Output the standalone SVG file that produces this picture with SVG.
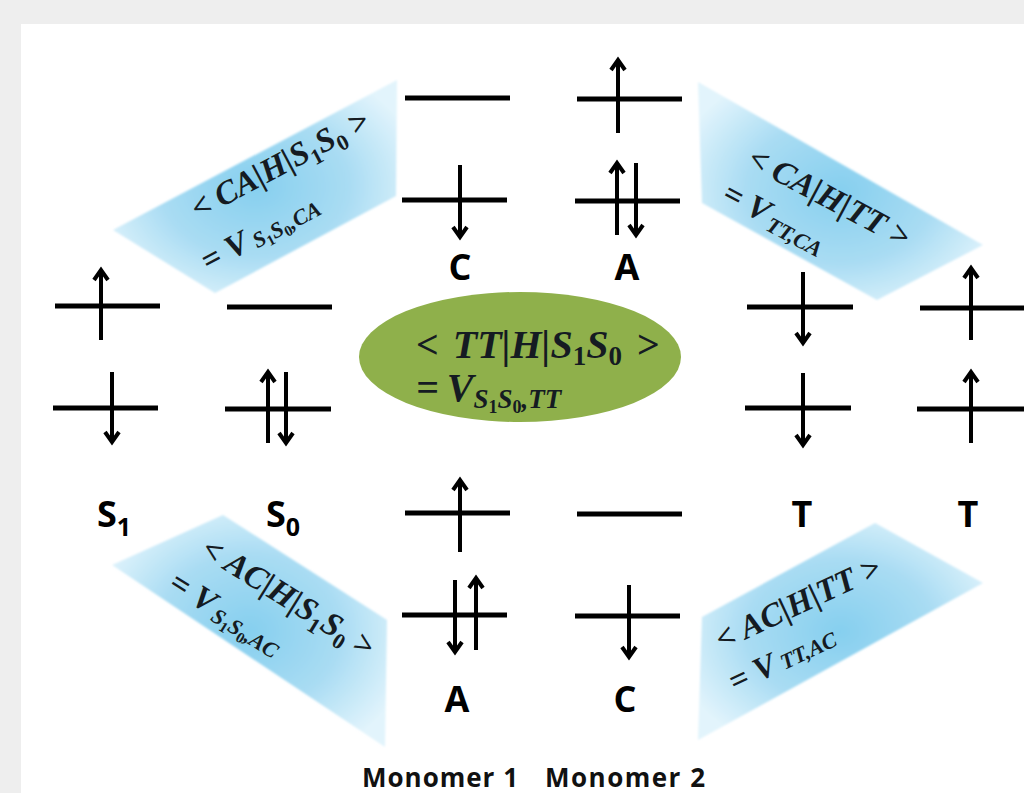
<svg xmlns="http://www.w3.org/2000/svg" width="1024" height="793" viewBox="0 0 1024 793">
<style>
.lv{stroke:#000;stroke-width:5;fill:none}
.sp{stroke:#000;stroke-width:4;fill:none;marker-end:url(#ah)}
.lbl{font-family:"Open Sans","Liberation Sans",sans-serif;font-weight:700;font-size:36px;fill:#000}
.mono{font-family:"Open Sans","Liberation Sans",sans-serif;font-weight:700;font-size:26px;fill:#111}
.m{font-family:"Liberation Serif","DejaVu Serif",serif;font-weight:700;font-style:italic;fill:#151b22}
.bl{font-size:33px}
.s1{font-size:22px}
.s2{font-size:15px}
.up{font-style:normal}
.cb{fill:url(#bg);filter:url(#soft)}
</style>
<defs>
<marker id="ah" viewBox="-14 -12 20 24" refX="0" refY="0" markerWidth="20" markerHeight="24" markerUnits="userSpaceOnUse" orient="auto">
<path d="M-10,-7 L0,0 L-10,7" fill="none" stroke="#000" stroke-width="4"/>
</marker>
<radialGradient id="bg" cx="50%" cy="50%" r="60%">
<stop offset="0" stop-color="#86cfef"/>
<stop offset="0.55" stop-color="#a9dcf3"/>
<stop offset="1" stop-color="#e2f4fc"/>
</radialGradient>
<filter id="soft" x="-5%" y="-5%" width="110%" height="110%">
<feGaussianBlur stdDeviation="1.2"/>
</filter>
</defs>
<rect x="0" y="0" width="1024" height="793" fill="#eeeeee"/>
<rect x="21" y="24" width="1003" height="769" fill="#ffffff"/>

<g id="couplings">
<g id="coupling-s1s0-ca">
<polygon class="cb" points="113,230 397,80 396,196 215,293"/>
<g transform="translate(280,165) rotate(-28)">
<text class="m bl" x="0" y="10" text-anchor="middle">&lt;<tspan dx="8">CA|H|S</tspan><tspan class="s1 up" dy="7">1</tspan><tspan dy="-7">S</tspan><tspan class="s1 up" dy="7">0</tspan><tspan dx="8" dy="-7">&gt;</tspan></text>
<text class="m bl" x="-114" y="61">=<tspan dx="8">V</tspan><tspan class="s1" dx="6" dy="2">S</tspan><tspan class="s2 up" dy="4">1</tspan><tspan class="s1" dy="-4">S</tspan><tspan class="s2 up" dy="4">0</tspan><tspan class="s1" dy="-4">,CA</tspan></text>
</g>
</g>
<g id="coupling-tt-ca">
<polygon class="cb" points="698,82 983,245 877,300 702,203"/>
<g transform="translate(829,198) rotate(28)">
<text class="m bl" x="0" y="10" text-anchor="middle">&lt;<tspan dx="8">CA|H|TT</tspan><tspan dx="8">&gt;</tspan></text>
<text class="m bl" x="-95" y="53">=<tspan dx="8">V</tspan><tspan class="s1" dx="4" dy="5">TT,CA</tspan></text>
</g>
</g>
<g id="coupling-s1s0-ac">
<polygon class="cb" points="223,515 387,620 385,747 112,565"/>
<g transform="translate(288,598) rotate(32)">
<text class="m bl" x="0" y="10" text-anchor="middle">&lt;<tspan dx="8">AC|H|S</tspan><tspan class="s1 up" dy="7">1</tspan><tspan dy="-7">S</tspan><tspan class="s1 up" dy="7">0</tspan><tspan dx="8" dy="-7">&gt;</tspan></text>
<text class="m bl" x="-108" y="56">=<tspan dx="8">V</tspan><tspan class="s1" dx="4" dy="4">S</tspan><tspan class="s2 up" dy="4">1</tspan><tspan class="s1" dy="-4">S</tspan><tspan class="s2 up" dy="4">0</tspan><tspan class="s1" dy="-4">,AC</tspan></text>
</g>
</g>
<g id="coupling-tt-ac">
<polygon class="cb" points="875,523 983,583 698,740 702,617"/>
<g transform="translate(798,604) rotate(-25)">
<text class="m bl" x="0" y="10" text-anchor="middle">&lt;<tspan dx="8">AC|H|TT</tspan><tspan dx="8">&gt;</tspan></text>
<text class="m bl" x="-95" y="54">=<tspan dx="8">V</tspan><tspan class="s1" dx="6" dy="0">TT,AC</tspan></text>
</g>
</g>
</g>

<g id="coupling-center">
<ellipse cx="520" cy="357" rx="161" ry="65" fill="#8fb04b"/>
<text class="m" font-size="40" x="416" y="358">&lt;<tspan dx="14">TT|H|S</tspan><tspan class="up" font-size="27" dy="7">1</tspan><tspan dy="-7">S</tspan><tspan class="up" font-size="27" dy="7">0</tspan><tspan dx="14" dy="-7">&gt;</tspan></text>
<text class="m" font-size="40" x="416" y="401">=<tspan dx="8">V</tspan><tspan font-size="27" dy="7">S</tspan><tspan class="up" font-size="18" dy="5">1</tspan><tspan font-size="27" dy="-5">S</tspan><tspan class="up" font-size="18" dy="5">0</tspan><tspan font-size="27" dy="-5">,TT</tspan></text>
</g>

<g id="S1">
<line class="lv" x1="55" y1="306" x2="160" y2="306"/>
<line class="sp" x1="101" y1="340" x2="101" y2="270"/>
<line class="lv" x1="53" y1="408" x2="158" y2="408"/>
<line class="sp" x1="112" y1="372" x2="112" y2="442"/>
<text class="lbl" x="97" y="527">S<tspan font-size="25" dy="9">1</tspan></text>
</g>
<g id="S0">
<line class="lv" x1="227" y1="307" x2="332" y2="307"/>
<line class="lv" x1="225" y1="409" x2="331" y2="409"/>
<line class="sp" x1="268" y1="443" x2="268" y2="372"/>
<line class="sp" x1="286" y1="372" x2="286" y2="443"/>
<text class="lbl" x="266" y="527">S<tspan font-size="25" dy="9">0</tspan></text>
</g>
<g id="C-top">
<line class="lv" x1="405" y1="98" x2="510" y2="98"/>
<line class="lv" x1="402" y1="200" x2="507" y2="200"/>
<line class="sp" x1="460" y1="165" x2="460" y2="237"/>
<text class="lbl" x="460" y="280" text-anchor="middle">C</text>
</g>
<g id="A-top">
<line class="lv" x1="577" y1="99" x2="682" y2="99"/>
<line class="sp" x1="618" y1="133" x2="618" y2="60"/>
<line class="lv" x1="575" y1="201" x2="680" y2="201"/>
<line class="sp" x1="617" y1="235" x2="617" y2="163"/>
<line class="sp" x1="636" y1="163" x2="636" y2="235"/>
<text class="lbl" x="627" y="280" text-anchor="middle">A</text>
</g>
<g id="T1">
<line class="lv" x1="747" y1="307" x2="853" y2="307"/>
<line class="sp" x1="803" y1="272" x2="803" y2="343"/>
<line class="lv" x1="745" y1="408" x2="851" y2="408"/>
<line class="sp" x1="803" y1="373" x2="803" y2="445"/>
<text class="lbl" x="802" y="527" text-anchor="middle">T</text>
</g>
<g id="T2">
<line class="lv" x1="920" y1="308" x2="1024" y2="308"/>
<line class="sp" x1="971" y1="340" x2="971" y2="268"/>
<line class="lv" x1="917" y1="409" x2="1024" y2="409"/>
<line class="sp" x1="971" y1="443" x2="971" y2="372"/>
<text class="lbl" x="968" y="527" text-anchor="middle">T</text>
</g>
<g id="A-bottom">
<line class="lv" x1="405" y1="513" x2="510" y2="513"/>
<line class="sp" x1="460" y1="552" x2="460" y2="480"/>
<line class="lv" x1="402" y1="615" x2="507" y2="615"/>
<line class="sp" x1="455" y1="580" x2="455" y2="652"/>
<line class="sp" x1="476" y1="650" x2="476" y2="578"/>
<text class="lbl" x="457" y="712" text-anchor="middle">A</text>
</g>
<g id="C-bottom">
<line class="lv" x1="577" y1="514" x2="682" y2="514"/>
<line class="lv" x1="575" y1="616" x2="680" y2="616"/>
<line class="sp" x1="629" y1="585" x2="629" y2="657"/>
<text class="lbl" x="625" y="712" text-anchor="middle">C</text>
</g>
<g id="monomer-labels">
<text class="mono" x="362" y="787" textLength="156">Monomer 1</text>
<text class="mono" x="545" y="787" textLength="160">Monomer 2</text>
</g>
</svg>
